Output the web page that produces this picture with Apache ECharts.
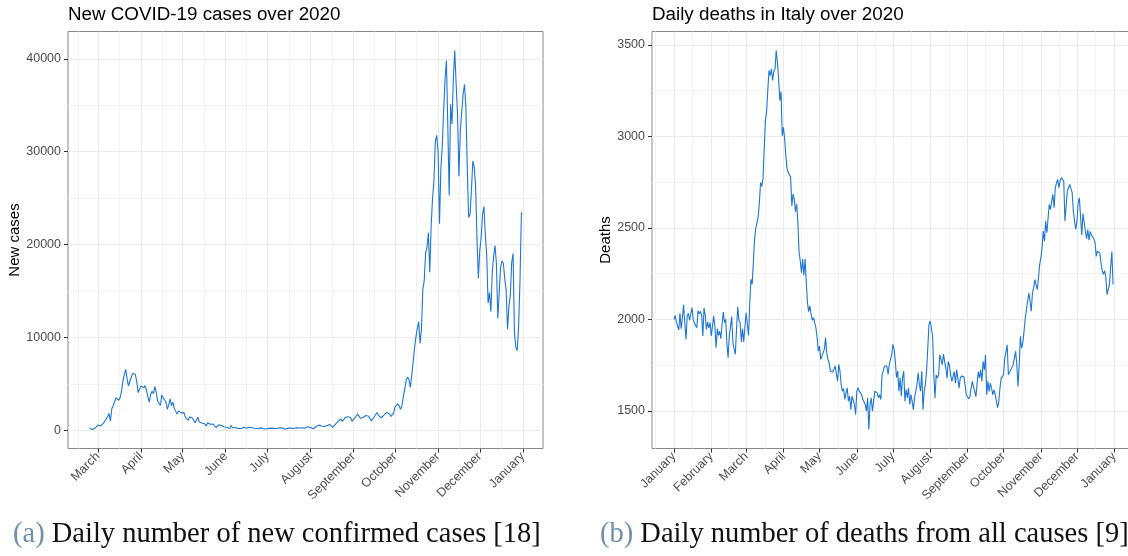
<!DOCTYPE html>
<html>
<head>
<meta charset="utf-8">
<script src="https://cdn.jsdelivr.net/npm/echarts@6/dist/echarts.min.js"></script>
<style>
  html, body { margin: 0; padding: 0; background: #ffffff; overflow: hidden; }
  /* the drawing is a little wider than the window so the right panel runs off the edge */
  #chart { width: 1150px; height: 556px; }
</style>
</head>
<body>
<div id="chart"></div>
<script>
// ---- data ---------------------------------------------------------------
const monthNames = ['January', 'February', 'March', 'April', 'May', 'June', 'July',
  'August', 'September', 'October', 'November', 'December', 'January'];

const leftTitle = 'New COVID-19 cases over 2020';
const rightTitle = 'Daily deaths in Italy over 2020';
const leftAxisName = 'New cases';
const rightAxisName = 'Deaths';

const caseTicks = [0, 10000, 20000, 30000, 40000];
const deathTicks = [1500, 2000, 2500, 3000, 3500];

// daily new confirmed cases, one value per day from casesStart
const casesStart = '2020-02-24';
const newCases = [
  221, 93, 78, 250, 238, 240,
  561, 347, 466, 587, 769, 778, 1247, 1492, 1797, 977, 2313, 2651, 2547, 3497, 3590, 3233,
  3526, 4207, 5322, 5986, 6557, 5560, 4789, 5249, 5210, 6153, 5959, 5974, 5217, 4050, 4053,
  4782, 4668, 4585, 4805, 4316, 3599, 3039, 3836, 4204, 3951, 4694, 4092, 3153, 2972, 2667,
  3786, 3493, 3491, 3047, 2256, 2729, 3370, 2646, 3021, 2357, 2324, 1739, 2091, 2086, 1872,
  1965, 1900, 1389, 1221, 1075, 1444, 1401, 1327, 1083, 802, 744, 1402, 888, 992, 789, 875,
  675, 451, 813, 665, 642, 652, 669, 531, 300, 397, 584, 593, 516, 416, 355,
  178, 318, 321, 177, 518, 270, 197, 280, 283, 202, 379, 163, 346, 338, 301, 210, 329, 333,
  251, 262, 224, 218, 122, 190, 296, 259, 175, 174, 126, 142,
  187, 201, 223, 235, 192, 208, 138, 193, 229, 276, 188, 234, 169, 114, 162, 230, 233, 249,
  219, 190, 129, 282, 306, 252, 275, 255, 170, 212, 289, 386, 379,
  295, 239, 159, 190, 384, 402, 552, 347, 463, 259, 412, 481, 523, 574, 629, 479, 320, 403,
  642, 845, 947, 1071, 1210, 953, 878, 1367, 1411, 1462, 1444, 1365, 996,
  978, 1326, 1397, 1733, 1695, 1297, 1108, 1370, 1434, 1597, 1616, 1501, 1458, 1008, 1229,
  1452, 1585, 1907, 1638, 1587, 1350, 1392, 1640, 1786, 1912, 1869, 1766, 1494, 1648, 1851,
  2548, 2499, 2844, 2578, 2257, 2677, 3678, 4458, 5372, 5724, 5456, 4619, 5901, 7332, 8804,
  10010, 10925, 11705, 9338, 10874, 15199, 16079, 19143, 19644, 21273, 17012, 21994, 24991,
  26831, 31084, 31758,
  29907, 22253, 28244, 30550, 34505, 37809, 39811, 32616, 25271, 35098, 32961, 37978, 40902,
  37255, 33979, 27354, 32191, 34283, 36176, 37242, 34767, 28337, 22930, 23232, 25853, 29003,
  28352, 26323, 20648, 16377,
  19350, 20709, 23225, 24099, 21052, 18887, 13720, 14842, 12756, 16999, 18727, 19903, 17938,
  12030, 14844, 17572, 18236, 17992, 16308, 15104, 10872, 13318, 14522, 18040, 19037, 10407,
  8913, 8585, 11212, 16202, 23477
];

// daily deaths from all causes, one value per day from deathsStart
const deathsStart = '2020-01-01';
const dailyDeaths = [
  2000, 2022, 1982, 1965, 1942, 2033, 1949, 2009, 2080, 1980,
  1890, 2018, 2033, 1995, 1985, 2064, 2000, 1978, 1967, 1954,
  2047, 2030, 2044, 2022, 1909, 2062, 2022, 1945, 1985, 1954,
  1982, 1909, 1960, 2018, 1963, 1845, 1949, 1912, 1936, 1894,
  1973, 2040, 1982, 2000, 1872, 1790, 1909, 1960, 2015, 1872,
  1863, 1808, 1945, 2069, 1996, 1982, 1876, 1949, 1876, 1960,
  2036, 2044, 1912, 2082, 2219, 2192, 2310, 2438, 2496, 2493,
  2560, 2639, 2748, 2726, 2766, 2931, 3086, 3132, 3250, 3360,
  3332, 3369, 3305, 3354, 3369, 3469, 3405, 3314, 3195, 3245,
  3004, 3049, 2986, 2894, 2821, 2803, 2803, 2776, 2620, 2684,
  2657, 2588, 2630, 2529, 2365, 2320, 2255, 2330, 2240, 2330,
  2200, 2090, 2042, 2073, 2027, 1995, 2009, 1982, 1954, 1900,
  1827, 1854, 1781, 1799, 1808, 1836, 1900, 1818, 1781, 1763,
  1717, 1712, 1713, 1726, 1745, 1754, 1662, 1754, 1717, 1644,
  1608, 1622, 1562, 1598, 1626, 1553, 1580, 1507, 1580, 1589,
  1535, 1480, 1608, 1626, 1608, 1608, 1589, 1562, 1553, 1535,
  1498, 1571, 1398, 1535, 1571, 1498, 1553, 1608, 1617, 1598,
  1571, 1589, 1562, 1699, 1717, 1745, 1754, 1745, 1699, 1754,
  1781, 1808, 1863, 1836, 1772, 1681, 1717, 1608, 1681, 1580,
  1681, 1717, 1553, 1617, 1571, 1626, 1535, 1589, 1553, 1507,
  1571, 1608, 1644, 1708, 1644, 1608, 1717, 1507, 1608, 1644,
  1717, 1845, 1973, 1991, 1982, 1909, 1700, 1571, 1697, 1679,
  1697, 1807, 1816, 1752, 1810, 1770, 1734, 1679, 1770, 1748,
  1697, 1661, 1664, 1715, 1651, 1724, 1679, 1624, 1679, 1690,
  1697, 1688, 1642, 1588, 1588, 1566, 1578, 1624, 1661, 1633,
  1605, 1578, 1651, 1715, 1679, 1724, 1661, 1770, 1724, 1807,
  1588, 1661, 1606, 1651, 1624, 1588, 1615, 1591, 1597, 1518,
  1551, 1624, 1679, 1688, 1697, 1788, 1825, 1861, 1697, 1706,
  1724, 1734, 1752, 1761, 1825, 1752, 1633, 1752, 1907, 1843,
  1870, 1934, 2007, 2007, 2099, 2144, 2099, 2044, 2144, 2172,
  2217, 2190, 2162, 2226, 2299, 2336, 2391, 2482, 2427, 2537,
  2473, 2555, 2628, 2600, 2646, 2683, 2610, 2719, 2746, 2765,
  2719, 2756, 2774, 2783, 2756, 2537, 2527, 2701, 2710, 2737,
  2728, 2692, 2591, 2537, 2491, 2537, 2637, 2664, 2559, 2461,
  2578, 2529, 2480, 2441, 2490, 2432, 2480, 2461, 2457, 2440,
  2422, 2344, 2373, 2383, 2363, 2305, 2266, 2246, 2266, 2230,
  2135, 2130, 2190, 2285, 2370, 2190
];

const captions = [
  { label: '(a)', text: 'Daily number of new confirmed cases [18]' },
  { label: '(b)', text: 'Daily number of deaths from all causes [9]' }
];

// ---- helpers ------------------------------------------------------------
const DAY_MS = 86400000;
const ORIGIN = Date.UTC(2020, 0, 1);
const dayOf = (iso) => Math.round((Date.parse(iso) - ORIGIN) / DAY_MS);
const monthStarts = monthNames.map((_, m) => Math.round((Date.UTC(2020, m, 1) - ORIGIN) / DAY_MS));

function seriesData(startIso, values) {
  const s = dayOf(startIso);
  return values.map((v, i) => [s + i, v]);
}

// ggplot-style 5% expansion of the data range
function expanded(lo, hi) {
  const pad = (hi - lo) * 0.05;
  return [lo - pad, hi + pad];
}

// minor breaks halfway between major ones, one extra beyond each end
function minorBreaks(majors, lo, hi) {
  const out = [];
  const step = majors[1] - majors[0];
  const b = [majors[0] - step].concat(majors, [majors[majors.length - 1] + step]);
  for (let i = 0; i < b.length - 1; i++) {
    const m = (b[i] + b[i + 1]) / 2;
    if (m >= lo && m <= hi) out.push(m);
  }
  return out;
}

const SANS = '"Liberation Sans", Arial, Helvetica, sans-serif';
const SERIF = '"Liberation Serif", "Times New Roman", serif';
const LINE_COLOR = '#1f77d4';
const GRID_MAJOR = '#ebebeb';
const GRID_MINOR = '#f4f4f4';
const FRAME = '#8a8a8a';
const TICK_TEXT = '#4d4d4d';

function panel(idx, startIso, values, yTicks, yName, yNameGap) {
  const xs = [dayOf(startIso), dayOf(startIso) + values.length - 1];
  const [xMin, xMax] = expanded(xs[0], xs[1]);
  const [yMin, yMax] = expanded(Math.min(...values), Math.max(...values));

  const xMajor = monthStarts.filter(d => d >= xMin && d <= xMax);
  const xMinor = minorBreaks(monthStarts, xMin, xMax);
  const yMajor = yTicks.filter(v => v >= yMin && v <= yMax);
  const yMinor = minorBreaks(yTicks, yMin, yMax);

  const xMajorAxis = {
    type: 'value', gridIndex: idx, min: xMin, max: xMax, position: 'bottom',
    axisLine: { show: false, onZero: false },
    axisTick: { show: true, length: 4, lineStyle: { color: '#333333', width: 1 }, customValues: xMajor },
    axisLabel: {
      customValues: xMajor, rotate: 45, margin: 6,
      color: TICK_TEXT, fontSize: 12.5, fontFamily: SANS,
      formatter: (v) => monthNames[monthStarts.indexOf(Math.round(v))]
    },
    splitLine: { show: true, lineStyle: { color: GRID_MAJOR, width: 1 } },
    z: 2
  };
  const xMinorAxis = {
    type: 'value', gridIndex: idx, min: xMin, max: xMax, position: 'bottom',
    axisLine: { show: false, onZero: false },
    axisTick: { show: false, customValues: xMinor },
    axisLabel: { show: false, customValues: xMinor },
    splitLine: { show: true, lineStyle: { color: GRID_MINOR, width: 1 } },
    z: 1
  };
  const yMajorAxis = {
    type: 'value', gridIndex: idx, min: yMin, max: yMax, position: 'left',
    name: yName, nameLocation: 'middle', nameRotate: 90, nameGap: yNameGap,
    nameTextStyle: { color: '#000000', fontSize: 15, fontFamily: SANS },
    axisLine: { show: false, onZero: false },
    axisTick: { show: true, length: 4, lineStyle: { color: '#333333', width: 1 }, customValues: yMajor },
    axisLabel: { customValues: yMajor, margin: 7, color: TICK_TEXT, fontSize: 12.5, fontFamily: SANS,
      formatter: (v) => String(Math.round(v)) },
    splitLine: { show: true, lineStyle: { color: GRID_MAJOR, width: 1 } },
    z: 2
  };
  const yMinorAxis = {
    type: 'value', gridIndex: idx, min: yMin, max: yMax, position: 'left',
    axisLine: { show: false, onZero: false },
    axisTick: { show: false, customValues: yMinor },
    axisLabel: { show: false, customValues: yMinor },
    splitLine: { show: true, lineStyle: { color: GRID_MINOR, width: 1 } },
    z: 1
  };
  return { xMajorAxis, xMinorAxis, yMajorAxis, yMinorAxis };
}

const left = panel(0, casesStart, newCases, caseTicks, leftAxisName, 45);
const right = panel(1, deathsStart, dailyDeaths, deathTicks, rightAxisName, 38);

const chart = echarts.init(document.getElementById('chart'), null, { renderer: 'canvas' });

const titleStyle = { fontSize: 18.8, fontWeight: 'normal', color: '#000000', fontFamily: SANS };

chart.setOption({
  animation: false,
  backgroundColor: '#ffffff',
  title: [
    { text: leftTitle, left: 68, top: 5, padding: 0, textStyle: titleStyle },
    { text: rightTitle, left: 652, top: 5, padding: 0, textStyle: titleStyle }
  ],
  grid: [
    { left: 68, top: 31.5, width: 475, height: 417, show: true, borderColor: FRAME, borderWidth: 1, backgroundColor: 'transparent' },
    { left: 652, top: 31.5, width: 483, height: 417, show: true, borderColor: FRAME, borderWidth: 1, backgroundColor: 'transparent' }
  ],
  xAxis: [left.xMajorAxis, left.xMinorAxis, right.xMajorAxis, right.xMinorAxis],
  yAxis: [left.yMajorAxis, left.yMinorAxis, right.yMajorAxis, right.yMinorAxis],
  series: [
    { type: 'line', name: 'New cases', xAxisIndex: 0, yAxisIndex: 0,
      data: seriesData(casesStart, newCases), showSymbol: false, symbol: 'none',
      lineStyle: { color: LINE_COLOR, width: 1.1 }, z: 5 },
    { type: 'line', name: 'Deaths', xAxisIndex: 2, yAxisIndex: 2,
      data: seriesData(deathsStart, dailyDeaths), showSymbol: false, symbol: 'none',
      lineStyle: { color: LINE_COLOR, width: 1.1 }, z: 5 }
  ],
  graphic: captions.map((c, i) => ({
    type: 'text',
    left: i === 0 ? 13 : 600,
    top: 520,
    silent: true,
    style: {
      text: '{lab|' + c.label + '} ' + c.text,
      fontSize: 28.5, fontFamily: SERIF, fill: '#111111',
      rich: { lab: { fill: '#6f8fab', fontSize: 28.5, fontFamily: SERIF } }
    }
  }))
});
</script>
</body>
</html>
